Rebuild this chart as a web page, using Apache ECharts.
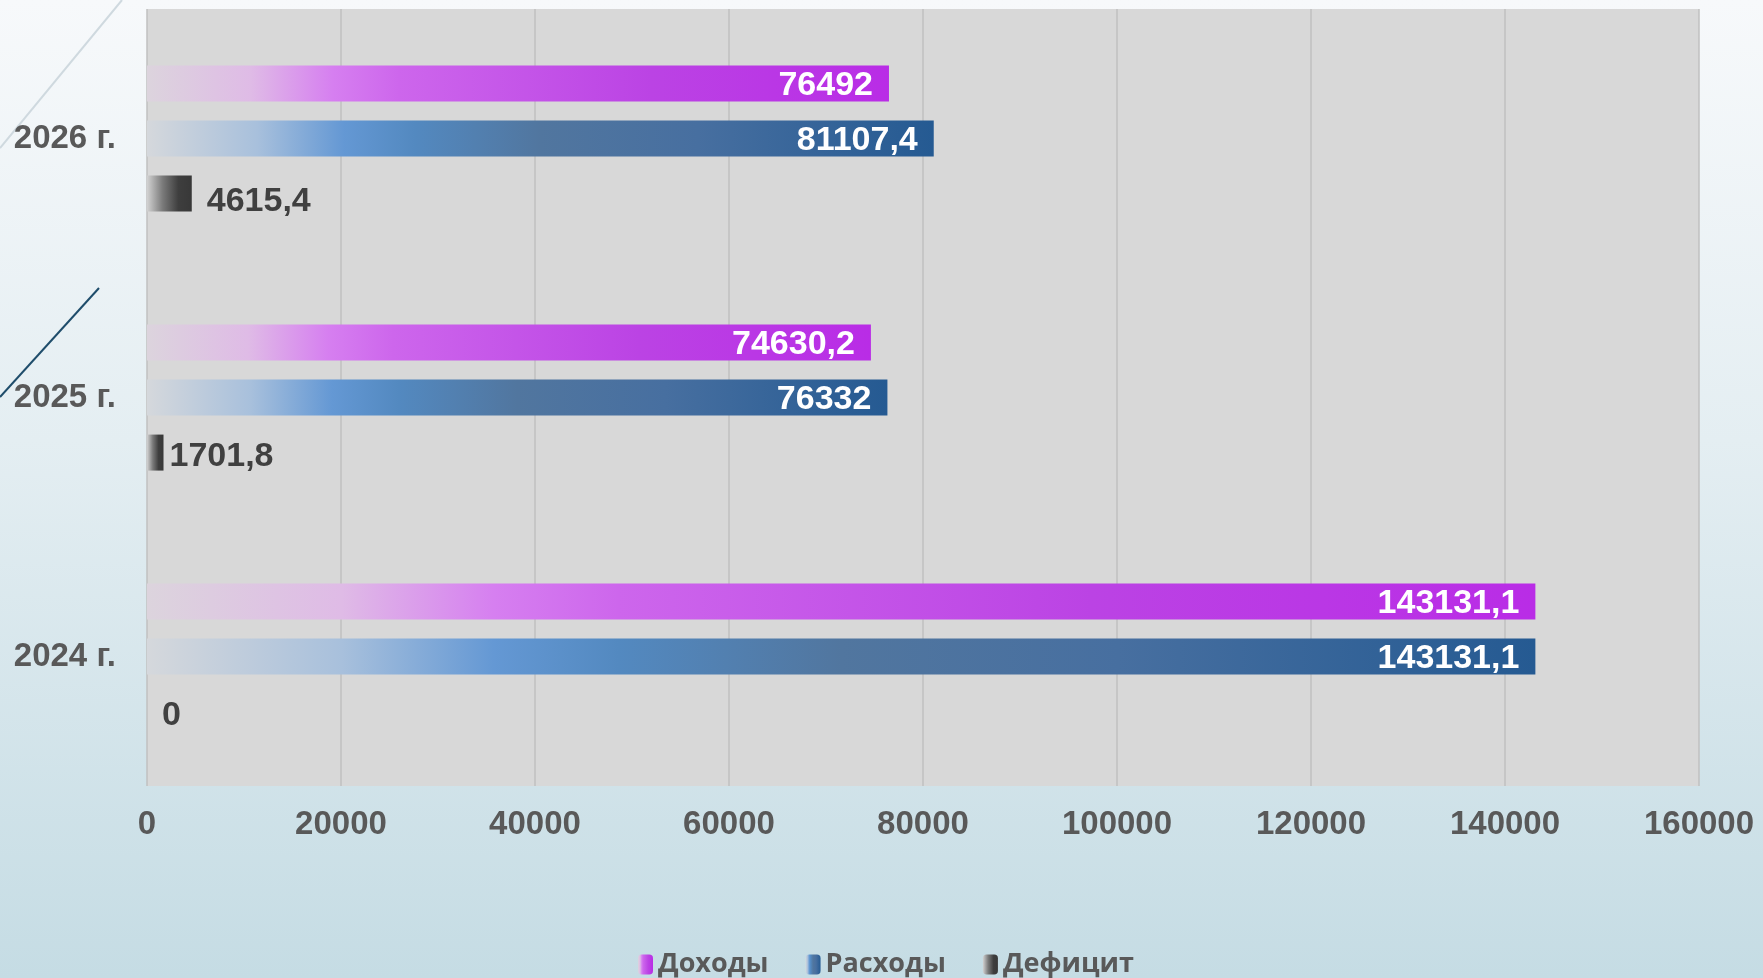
<!DOCTYPE html>
<html>
<head>
<meta charset="utf-8">
<script src="https://cdn.jsdelivr.net/npm/echarts@6/dist/echarts.min.js"></script>
<style>
  html, body { margin: 0; padding: 0; }
  #chart {
    width: 1763px; height: 978px;
    background: linear-gradient(to bottom, #f7f9fb 0%, #e4eef2 45%, #c5dce4 100%);
  }
</style>
</head>
<body>
<div id="chart"></div>
<script>
// данные
var years = ['2024 г.', '2025 г.', '2026 г.'];
var dohody = [143131.1, 74630.2, 76492];
var rashody = [143131.1, 76332, 81107.4];
var deficit = [0, 1701.8, 4615.4];
var seriesNames = ['Доходы', 'Расходы', 'Дефицит'];
var xTicks = [0, 20000, 40000, 60000, 80000, 100000, 120000, 140000, 160000];

var myChart = echarts.init(document.getElementById('chart'));

function grad(stops) {
    return new echarts.graphic.LinearGradient(0, 0, 1, 0, stops.map(function (s) {
        return { offset: s[0], color: s[1] };
    }));
}

function fmt(p) {
    return String(p.value).replace('.', ',');
}

var labelFont = 'Liberation Sans, Arial, sans-serif';

// подписи дефицита сдвинуты вручную, как на слайде
var deficitDist = [15, 6, 15];
var deficitShift = [4, 4, 8];
var deficitData = deficit.map(function (v, i) {
    return { value: v, label: { distance: deficitDist[i], offset: [0, deficitShift[i]] } };
});

var option = {
    backgroundColor: 'transparent',
    animation: false,
    grid: { left: 147, right: 64, top: 9, bottom: 192, show: true, backgroundColor: '#d8d8d8', borderWidth: 0 },
    legend: {
        data: seriesNames,
        left: 633, top: 946,
        itemWidth: 15, itemHeight: 20, itemGap: 37,
        textStyle: { fontFamily: 'Open Sans, Noto Sans, sans-serif', fontWeight: 'bold', fontSize: 27, color: '#595959' }
    },
    xAxis: {
        type: 'value',
        min: xTicks[0], max: xTicks[xTicks.length - 1], interval: xTicks[1] - xTicks[0],
        axisLine: { show: false }, axisTick: { show: false },
        splitLine: { lineStyle: { color: '#c0c0c0', width: 1.5 } },
        axisLabel: { color: '#595959', fontFamily: labelFont, fontWeight: 'bold', fontSize: 33, margin: 22,
            formatter: function (v) { return String(v); } }
    },
    yAxis: {
        type: 'category',
        data: years,
        axisLine: { show: false }, axisTick: { show: false },
        axisLabel: { color: '#595959', fontFamily: labelFont, fontWeight: 'bold', fontSize: 33, margin: 31 }
    },
    series: [
        {
            name: seriesNames[0], type: 'bar', data: dohody,
            barWidth: 36, barGap: '53%',
            itemStyle: { color: grad([[0, '#dcd4dd'], [0.14, '#dfbbe6'], [0.25, '#d67ff0'], [0.34, '#cd66ec'], [0.68, '#bb43e4'], [1, '#b92ce6']]) },
            label: { show: true, position: 'insideRight', distance: 16, formatter: fmt, offset: [0, 2],
                color: '#ffffff', fontFamily: labelFont, fontWeight: 'bold', fontSize: 34 }
        },
        {
            name: seriesNames[1], type: 'bar', data: rashody,
            barWidth: 36, barGap: '53%',
            itemStyle: { color: grad([[0, '#d5d8dc'], [0.14, '#a8c0dc'], [0.25, '#6498d4'], [0.34, '#5389c0'], [0.5, '#51769f'], [0.7, '#476fa0'], [1, '#255a92']]) },
            label: { show: true, position: 'insideRight', distance: 16, formatter: fmt, offset: [0, 2],
                color: '#ffffff', fontFamily: labelFont, fontWeight: 'bold', fontSize: 34 }
        },
        {
            name: seriesNames[2], type: 'bar', data: deficitData,
            barWidth: 36, barGap: '53%',
            itemStyle: { color: grad([[0, '#d2d2d2'], [0.35, '#7a7a7a'], [0.7, '#3e3e3e'], [1, '#383838']]) },
            label: { show: true, position: 'right', formatter: fmt,
                color: '#404040', fontFamily: labelFont, fontWeight: 'bold', fontSize: 34 }
        }
    ],
    graphic: [
        { type: 'line', shape: { x1: 0, y1: 148, x2: 122, y2: 0 }, style: { stroke: '#cfd9df', lineWidth: 2 }, silent: true },
        { type: 'line', shape: { x1: 0, y1: 397, x2: 99, y2: 288 }, style: { stroke: '#1f4d6b', lineWidth: 2 }, silent: true }
    ]
};

myChart.setOption(option);
</script>
</body>
</html>
